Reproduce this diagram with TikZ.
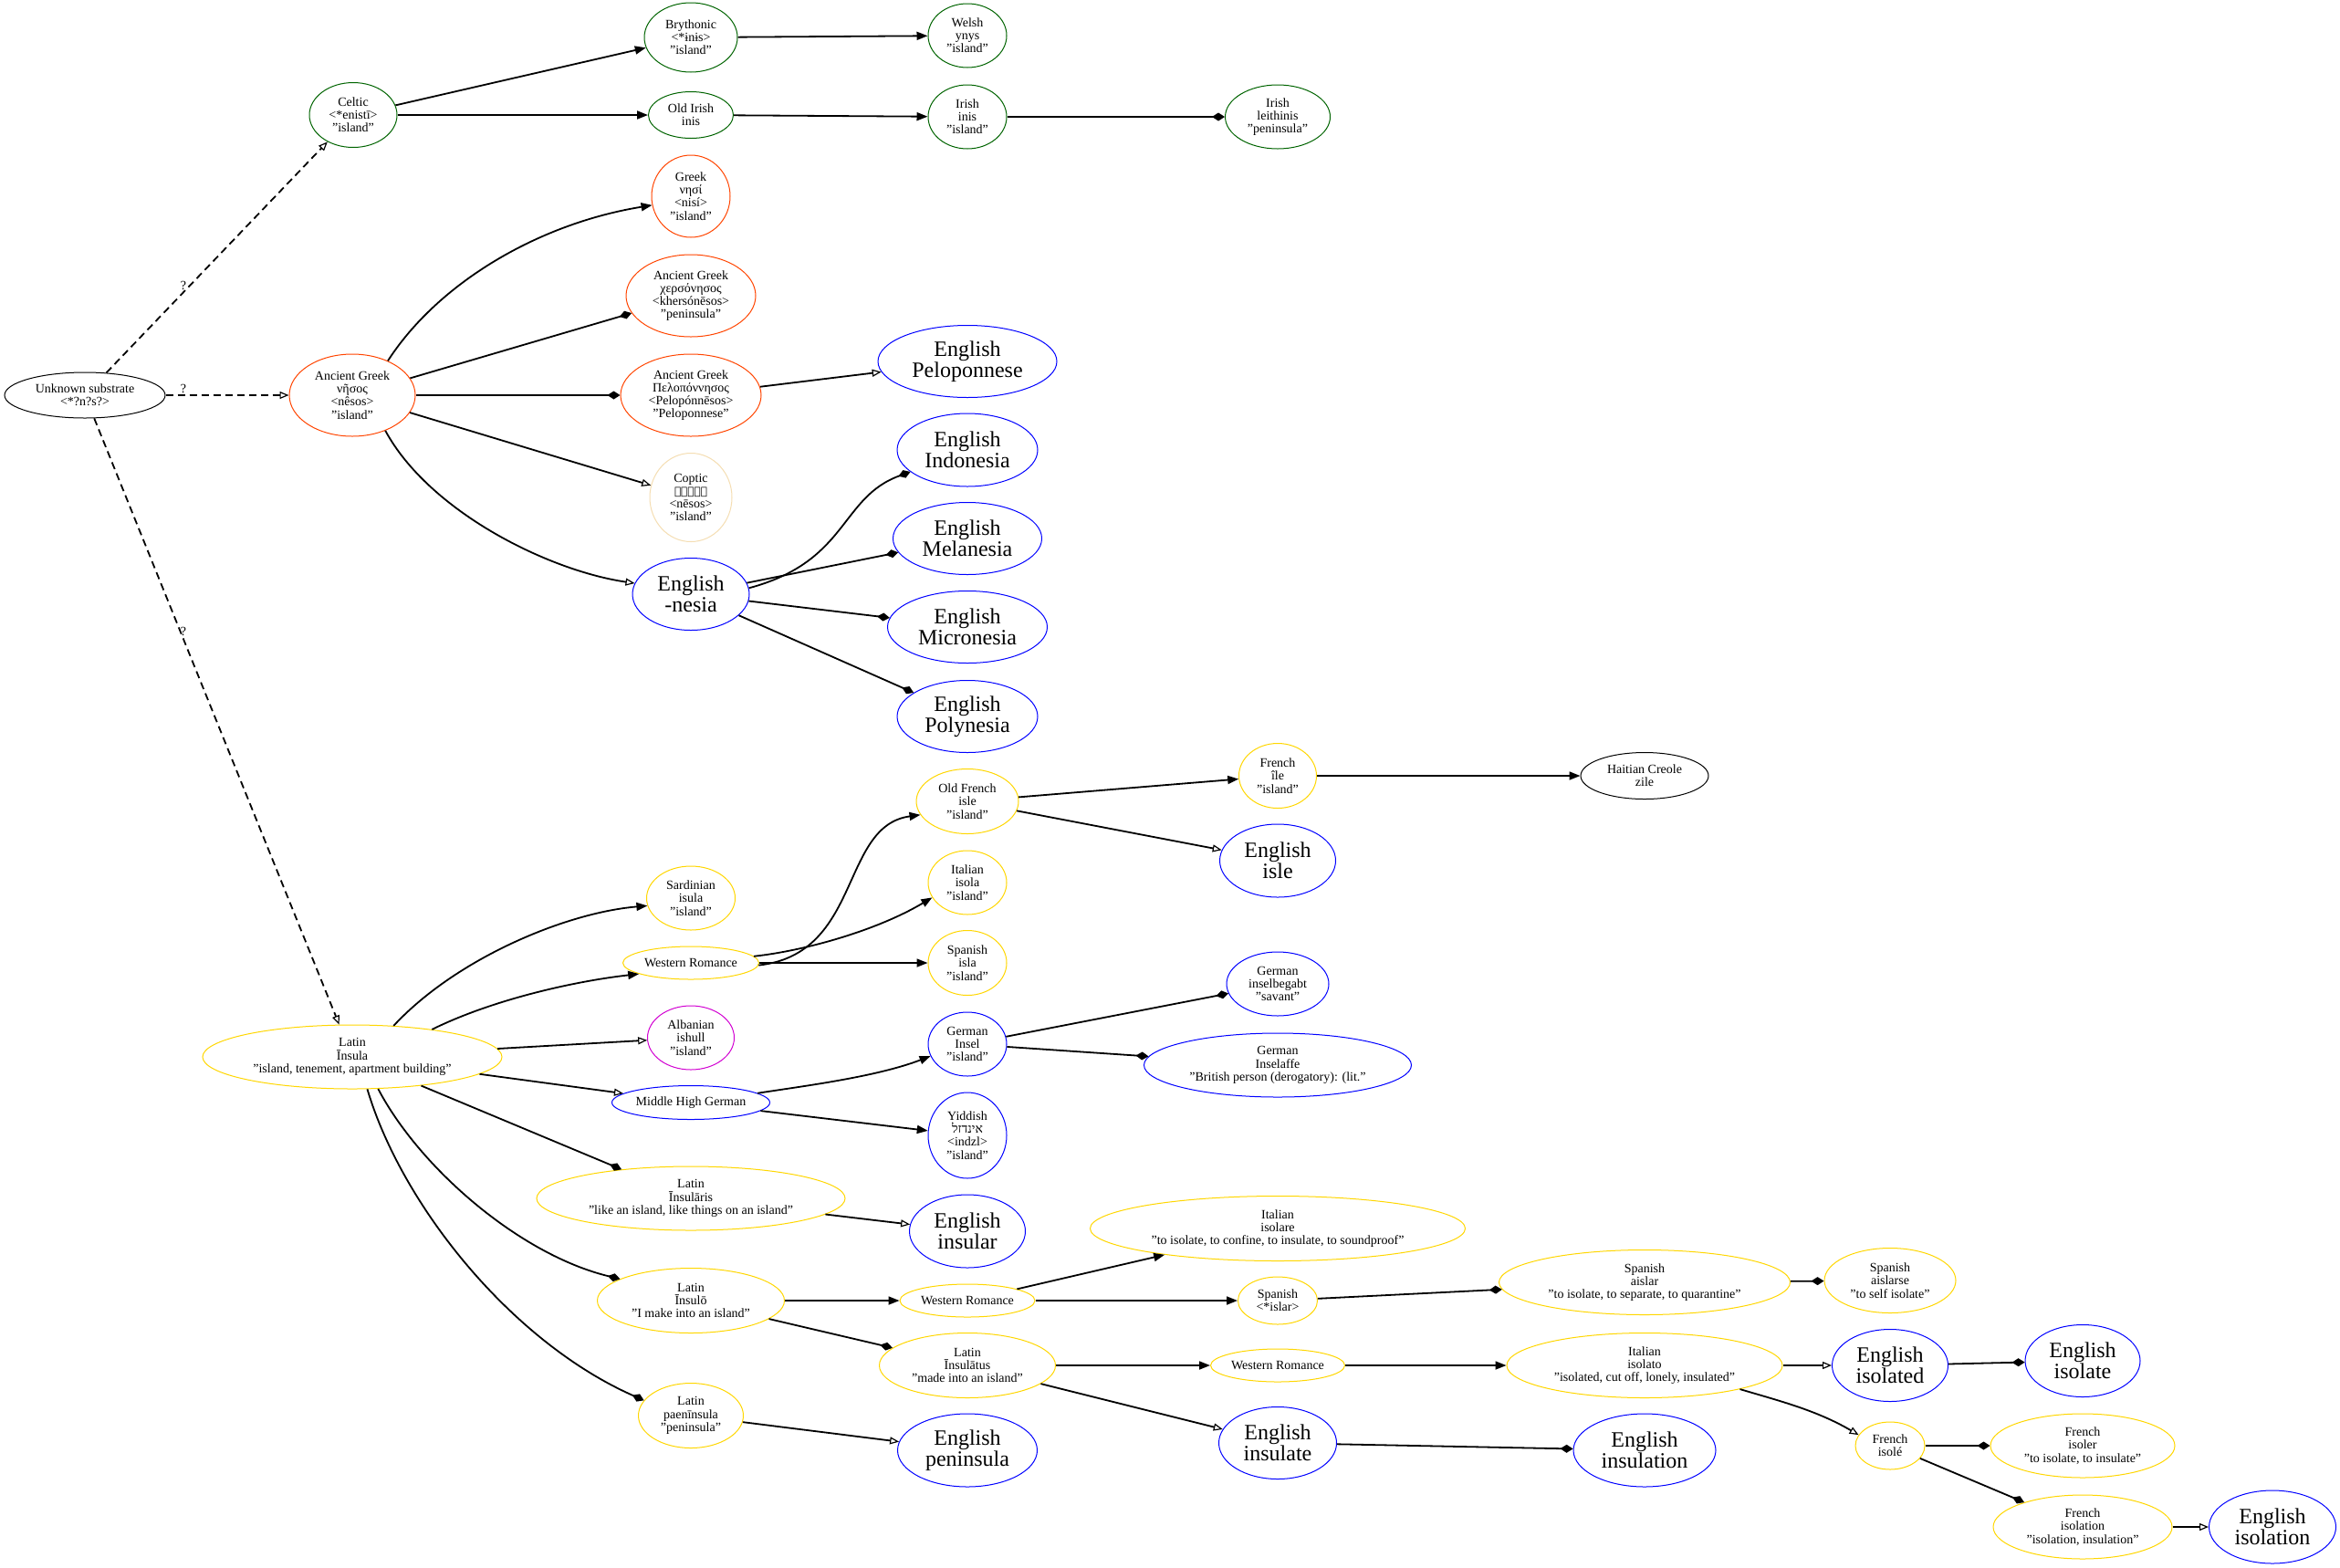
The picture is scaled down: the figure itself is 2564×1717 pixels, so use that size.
\documentclass[tikz,border=0pt]{standalone}
\usepackage{fontspec}
\setmainfont{Liberation Serif}
\newfontfamily\hebfont[Script=Hebrew]{Liberation Serif}
\newfontfamily\copfont{DejaVu Sans}
\TeXXeTstate=1
\usetikzlibrary{shapes.geometric,arrows.meta}
\definecolor{cgreen}{RGB}{0,100,0}
\definecolor{corange}{RGB}{255,69,0}
\definecolor{cwheat}{RGB}{245,222,179}
\definecolor{cgold}{RGB}{255,215,0}
\definecolor{cmag}{RGB}{210,0,210}
\definecolor{cblue}{RGB}{0,0,255}
\newcommand\smallf{\fontsize{14}{14.2}\selectfont}
\newcommand\bigf{\fontsize{24}{23.4}\selectfont}
\tikzset{
  ell/.style={ellipse, line width=1pt, inner sep=0pt},
  txt/.style={align=center, inner sep=0pt, font=\smallf},
  bigt/.style={align=center, inner sep=0pt, font=\bigf},
  edg/.style={line width=1.8pt},
  arN/.style={edg, -{Triangle[length=12pt,width=9pt]}},
  arD/.style={edg, -{Diamond[length=14pt,width=9pt]}},
  arO/.style={edg, -{Triangle[open,length=10pt,width=8pt,line width=1.2pt]}},
  arQ/.style={arO, dash pattern=on 8pt off 5pt},
}
\newcommand\Sn[7]{\node[ell,draw=#2,minimum width=#5pt,minimum height=#6pt] (#1) at (#3,#4) {};\node[txt] (#1t) at (#1) {#7};}
\newcommand\Bn[6]{\node[ell,draw=cblue,minimum width=#4pt,minimum height=#5pt] (#1) at (#2,#3) {};\node[bigt] (#1t) at (#1) {#6};}
\begin{document}
\begin{tikzpicture}[x=1pt,y=-1pt]
\fill[white] (0,0) rectangle (2564,1717);
% nodes
\Sn{unk}{black}{93}{433}{176}{50}{Unknown substrate\\<*?n?s?>}
\Sn{celtic}{cgreen}{387}{126}{96}{71}{Celtic\\<*enistī>\\"island"}
\Sn{bryth}{cgreen}{757}{41}{102}{76}{Brythonic\\<*ɨnɨs>\\"island"}
\Sn{oldirish}{cgreen}{757}{126}{93}{51}{Old Irish\\inis}
\Sn{welsh}{cgreen}{1060}{39}{86}{70}{Welsh\\ynys\\"island"}
\Sn{irish}{cgreen}{1060}{128}{86}{70}{Irish\\inis\\"island"}
\Sn{leith}{cgreen}{1400}{128}{115}{70}{Irish\\leithinis\\"peninsula"}
\Sn{greek}{corange}{757}{215}{86}{90}{Greek\\νησί\\<nisí>\\"island"}
\Sn{kher}{corange}{757}{324}{142}{90}{Ancient Greek\\χερσόνησος\\<khersónēsos>\\"peninsula"}
\Sn{pelo}{corange}{757}{433}{154}{90}{Ancient Greek\\Πελοπόννησος\\<Pelopónnēsos>\\"Peloponnese"}
\Sn{ag}{corange}{386}{433}{138}{90}{Ancient Greek\\νῆσος\\<nêsos>\\"island"}
\Bn{epelo}{1060}{396}{196}{79}{English\\Peloponnese}
\Sn{coptic}{cwheat}{757}{545}{90}{97}{Coptic\\{\copfont\fontsize{12}{16}\selectfont ⲛⲏⲥⲟⲥ}\\<nēsos>\\"island"}
\Bn{nesia}{757}{651}{128}{79}{English\\-nesia}
\Bn{indo}{1060}{493}{154}{80}{English\\Indonesia}
\Bn{mela}{1060}{590}{163}{79}{English\\Melanesia}
\Bn{micro}{1060}{687}{175}{79}{English\\Micronesia}
\Bn{poly}{1060}{785}{154}{79}{English\\Polynesia}
\Sn{ofr}{cgold}{1060}{878}{112}{71}{Old French\\isle\\"island"}
\Sn{itisola}{cgold}{1060}{967}{86}{70}{Italian\\isola\\"island"}
\Sn{esisla}{cgold}{1060}{1055}{86}{71}{Spanish\\isla\\"island"}
\Sn{sard}{cgold}{757}{984}{97}{70}{Sardinian\\isula\\"island"}
\Sn{wr1}{cgold}{757}{1055}{149}{36}{Western Romance}
\Sn{alb}{cmag}{757}{1137}{95}{70}{Albanian\\ishull\\"island"}
\Sn{mhg}{cblue}{757}{1208}{173}{37}{Middle High German}
\Sn{insel}{cblue}{1060}{1144}{86}{70}{German\\Insel\\"island"}
\Sn{yid}{cblue}{1060}{1244}{86}{94}{Yiddish\\{\hebfont\beginR אינדזל\endR}\\<indzl>\\"island"}
\Sn{begabt}{cblue}{1400}{1078}{112}{70}{German\\inselbegabt\\"savant"}
\Sn{affe}{cblue}{1400}{1167}{293}{70}{German\\Inselaffe\\"British person (derogatory): (lit."}
\Sn{frile}{cgold}{1400}{850}{85}{71}{French\\île\\"island"}
\Sn{haiti}{black}{1802}{850}{140}{51}{Haitian Creole\\zile}
\Bn{eisle}{1400}{943}{127}{80}{English\\isle}
\Sn{latin}{cgold}{386}{1158}{328}{70}{Latin\\Īnsula\\"island, tenement, apartment building"}
\Sn{insularis}{cgold}{757}{1313}{338}{70}{Latin\\Īnsulāris\\"like an island, like things on an island"}
\Sn{insulo}{cgold}{757}{1425}{205}{71}{Latin\\Īnsulō\\"I make into an island"}
\Bn{einsular}{1060}{1349}{127}{80}{English\\insular}
\Sn{isolare}{cgold}{1400}{1346}{411}{71}{Italian\\isolare\\"to isolate, to confine, to insulate, to soundproof"}
\Sn{wr2}{cgold}{1060}{1425}{148}{36}{Western Romance}
\Sn{islar}{cgold}{1400}{1425}{87}{52}{Spanish\\<*islar>}
\Sn{aislar}{cgold}{1802}{1405}{319}{71}{Spanish\\aislar\\"to isolate, to separate, to quarantine"}
\Sn{aislarse}{cgold}{2071}{1403}{144}{71}{Spanish\\aislarse\\"to self isolate"}
\Sn{insulatus}{cgold}{1060}{1496}{193}{71}{Latin\\Īnsulātus\\"made into an island"}
\Sn{wr3}{cgold}{1400}{1496}{147}{36}{Western Romance}
\Sn{isolato}{cgold}{1802}{1496}{302}{71}{Italian\\isolato\\"isolated, cut off, lonely, insulated"}
\Bn{eisolated}{2071}{1496}{127}{79}{English\\isolated}
\Bn{eisolate}{2282}{1491}{126}{79}{English\\isolate}
\Sn{frisole}{cgold}{2071}{1584}{76}{52}{French\\isolé}
\Sn{frisoler}{cgold}{2282}{1584}{202}{70}{French\\isoler\\"to isolate, to insulate"}
\Sn{frisolation}{cgold}{2282}{1673}{196}{70}{French\\isolation\\"isolation, insulation"}
\Bn{eisolation}{2490}{1673}{139}{80}{English\\isolation}
\Bn{einsulation}{1802}{1589}{156}{80}{English\\insulation}
\Bn{einsulate}{1400}{1581}{129}{79}{English\\insulate}
\Bn{epen}{1060}{1589}{153}{80}{English\\peninsula}
\Sn{paen}{cgold}{757}{1551}{115}{71}{Latin\\paenīnsula\\"peninsula"}
% labels
\node[txt] (q1) at (201,313) {?};
\node[txt] (q2) at (201,426) {?};
\node[txt] (q3) at (201,692) {?};
% edges
\draw[arN] (celtic) -- (bryth);
\draw[arN] (celtic) -- (oldirish);
\draw[arN] (bryth) -- (welsh);
\draw[arN] (oldirish) -- (irish);
\draw[arD] (irish) -- (leith);
\draw[arQ] (unk) -- (celtic);
\draw[arQ] (unk) -- (ag);
\draw[arQ] (unk) -- (latin);
\draw[arN] (ag.44) .. controls (480,310) and (590,245) .. (greek.193);
\draw[arD] (ag) -- (kher);
\draw[arD] (ag) -- (pelo);
\draw[arO] (ag) -- (coptic);
\draw[arO] (ag.313) .. controls (470,560) and (600,625) .. (nesia.169);
\draw[arO] (pelo) -- (epelo);
\draw[arD] (nesia.6) .. controls (930,615) and (920,545) .. (indo.201);
\draw[arD] (nesia) -- (mela);
\draw[arD] (nesia) -- (micro);
\draw[arD] (nesia) -- (poly);
\draw[arN] (latin.37) .. controls (500,1050) and (620,1000) .. (sard.190);
\draw[arN] (latin.19) .. controls (540,1095) and (630,1075) .. (wr1.192);
\draw[arN] (wr1.358) .. controls (945,1045) and (920,905) .. (ofr.196);
\draw[arN] (wr1.6) .. controls (880,1042) and (960,1020) .. (itisola.203);
\draw[arN] (wr1) -- (esisla);
\draw[arN] (ofr) -- (frile);
\draw[arO] (ofr) -- (eisle);
\draw[arN] (frile) -- (haiti);
\draw[arO] (latin) -- (alb);
\draw[arO] (latin) -- (mhg);
\draw[arN] (mhg.8) .. controls (880,1190) and (960,1180) .. (insel.198);
\draw[arN] (mhg) -- (yid);
\draw[arD] (insel) -- (begabt);
\draw[arD] (insel) -- (affe);
\draw[arD] (latin) -- (insularis);
\draw[arD] (latin.309) .. controls (460,1280) and (570,1375) .. (insulo.163);
\draw[arD] (latin.295) .. controls (440,1320) and (560,1470) .. (paen.162);
\draw[arO] (insularis) -- (einsular);
\draw[arN] (insulo) -- (wr2);
\draw[arD] (insulo) -- (insulatus);
\draw[arN] (wr2) -- (isolare);
\draw[arN] (wr2) -- (islar);
\draw[arD] (islar) -- (aislar);
\draw[arD] (aislar) -- (aislarse);
\draw[arN] (insulatus) -- (wr3);
\draw[arN] (wr3) -- (isolato);
\draw[arO] (insulatus) -- (einsulate);
\draw[arD] (einsulate) -- (einsulation);
\draw[arO] (isolato) -- (eisolated);
\draw[arD] (eisolated) -- (eisolate);
\draw[arO] (isolato.346) .. controls (1950,1535) and (1990,1545) .. (frisole.161);
\draw[arD] (frisole) -- (frisoler);
\draw[arD] (frisole) -- (frisolation);
\draw[arO] (frisolation) -- (eisolation);
\draw[arO] (paen) -- (epen);
\end{tikzpicture}
\end{document}
